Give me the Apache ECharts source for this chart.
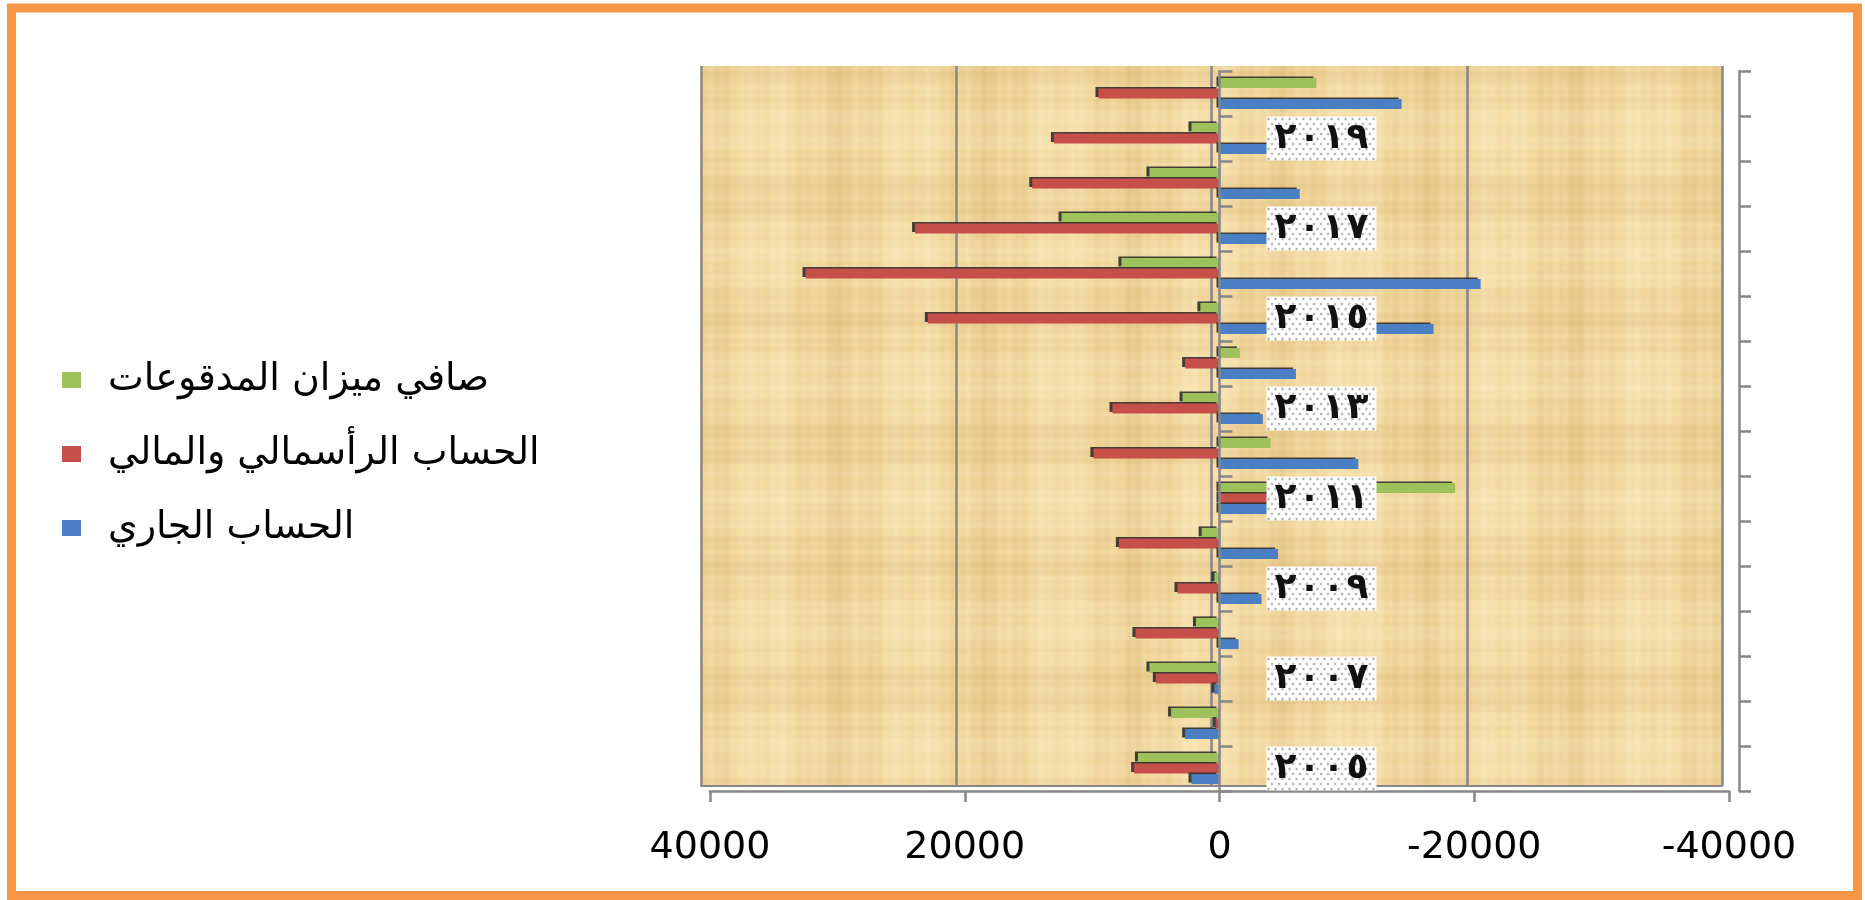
<!DOCTYPE html>
<html>
<head>
<meta charset="utf-8">
<script src="https://cdn.jsdelivr.net/npm/echarts@6.0.0/dist/echarts.min.js"></script>
<style>
  html, body { margin: 0; padding: 0; background: #ffffff; }
  #chart { width: 1865px; height: 900px; }
</style>
</head>
<body>
<div id="chart"></div>
<script>
// Balance of payments by year (millions)
const years = ['2005', '2006', '2007', '2008', '2009', '2010', '2011', '2012',
               '2013', '2014', '2015', '2016', '2017', '2018', '2019', '2020'];

const nameNet = 'صافي ميزان المدقوعات';
const nameCapital = 'الحساب الرأسمالي والمالي';
const nameCurrent = 'الحساب الجاري';

const netBalance = [6400, 3800, 5500, 1850, 400, 1400, -18500, -4000,
                    2900, -1600, 1500, 7700, 12400, 5500, 2200, -7600];
const capitalFinancial = [6700, 300, 5000, 6600, 3300, 7900, -6000, 9900,
                          8400, 2700, 22900, 32500, 23900, 14700, 13000, 9500];
const currentAccount = [2200, 2700, 400, -1500, -3300, -4600, -5900, -10900,
                        -3400, -6000, -16800, -20500, -7900, -6300, -10200, -14300];

// value axis ticks (axis is reversed: positive values to the left)
const valueTicks = [-40000, -20000, 0, 20000, 40000];

const colorNet = '#9DC15B';
const colorCapital = '#C64F4A';
const colorCurrent = '#4A7FC3';
const axisGray = '#878787';

// plot rectangle of the front (data) grid
const plotLeft = 710, plotRight = 136, plotTop = 71, plotBottom = 109;
const plotWidth = 1865 - plotLeft - plotRight;

// papyrus-like wall fill, built from smooth stripes
function papyrusTexture(w, h) {
  const c = document.createElement('canvas');
  c.width = w; c.height = h;
  const g = c.getContext('2d');
  g.fillStyle = '#F3D9A0';
  g.fillRect(0, 0, w, h);
  for (let x = 0; x < w; x += 2) {
    const v = 0.5 * Math.sin(x * 0.043) + 0.3 * Math.sin(x * 0.17 + 0.7) + 0.2 * Math.sin(x * 0.61 + 2.1);
    g.fillStyle = v > 0 ? 'rgba(255,244,210,' + (0.36 * v).toFixed(3) + ')'
                        : 'rgba(200,158,85,' + (-0.26 * v).toFixed(3) + ')';
    g.fillRect(x, 0, 2, h);
  }
  for (let y = 0; y < h; y += 2) {
    const v = 0.5 * Math.sin(y * 0.051 + 1.1) + 0.3 * Math.sin(y * 0.23 + 0.3) + 0.2 * Math.sin(y * 0.73 + 1.7);
    g.fillStyle = v > 0 ? 'rgba(255,244,210,' + (0.28 * v).toFixed(3) + ')'
                        : 'rgba(200,158,85,' + (-0.22 * v).toFixed(3) + ')';
    g.fillRect(0, y, w, 2);
  }
  return c;
}

// white box with a staggered dot pattern behind the year labels
function dottedBox(w, h) {
  const c = document.createElement('canvas');
  c.width = w; c.height = h;
  const g = c.getContext('2d');
  g.fillStyle = '#ffffff';
  g.fillRect(0, 0, w, h);
  g.fillStyle = '#707070';
  let row = 0;
  for (let y = 2.5; y < h; y += 5, row++) {
    for (let x = 2 + (row % 2) * 3.5; x < w; x += 7) {
      g.beginPath();
      g.arc(x, y, 0.95, 0, Math.PI * 2);
      g.fill();
    }
  }
  return c;
}

const ARABIC_DIGITS = '٠١٢٣٤٥٦٧٨٩';
function yearLabel(y) {
  return String(y).split('').map(function (ch) {
    return '{d|' + ARABIC_DIGITS[+ch] + '}';
  }).join('');
}

const wallFill = papyrusTexture(1865, 900);
const labelBox = dottedBox(110, 44);

const barShadow = {
  shadowColor: 'rgba(35,35,35,0.85)',
  shadowOffsetX: -3,
  shadowOffsetY: -1.5,
  shadowBlur: 0
};

function barSeries(name, data, color) {
  return {
    name: name,
    type: 'bar',
    xAxisIndex: 0,
    yAxisIndex: 0,
    data: data,
    barWidth: 10,
    barGap: '6%',
    itemStyle: Object.assign({ color: color }, barShadow)
  };
}

const chart = echarts.init(document.getElementById('chart'), null, { renderer: 'canvas' });

// pixel distance from the plot's left edge to the value 0 (reversed axis)
const zeroFromLeft = plotWidth * (valueTicks[valueTicks.length - 1] - 0) /
                     (valueTicks[valueTicks.length - 1] - valueTicks[0]);

chart.setOption({
  animation: false,
  backgroundColor: '#ffffff',
  graphic: [{
    type: 'rect',
    silent: true,
    z: 100,
    shape: { x: 11.5, y: 8, width: 1846, height: 887.5 },
    style: { fill: 'none', stroke: '#F79646', lineWidth: 9 }
  }],
  legend: {
    orient: 'vertical',
    left: 62,
    top: 361,
    padding: 0,
    itemWidth: 19,
    itemHeight: 16,
    itemGap: 36,
    icon: 'rect',
    data: [nameNet, nameCapital, nameCurrent],
    formatter: function (n) { return '{gap| }{t|' + n + '}'; },
    textStyle: {
      fontSize: 38,
      lineHeight: 38,
      rich: {
        gap: { width: 22 },
        t: { fontFamily: 'DejaVu Sans', fontSize: 38, color: '#000000', lineHeight: 38 }
      }
    }
  },
  grid: [
    { left: plotLeft, right: plotRight, top: plotTop, bottom: plotBottom, show: false },
    {
      left: 701, right: 143, top: 66, bottom: 114, show: true,
      backgroundColor: { image: wallFill, repeat: 'repeat' },
      borderWidth: 0
    }
  ],
  xAxis: [
    {
      gridIndex: 0,
      type: 'value',
      inverse: true,
      min: valueTicks[0],
      max: valueTicks[valueTicks.length - 1],
      interval: valueTicks[1] - valueTicks[0],
      axisLine: { show: true, onZero: false, lineStyle: { color: axisGray, width: 2.5 } },
      axisTick: { show: true, length: 11, lineStyle: { color: axisGray, width: 2.5 } },
      splitLine: { show: false },
      axisLabel: {
        formatter: function (v) { return String(v); },
        margin: 38,
        fontFamily: 'DejaVu Sans',
        fontSize: 38,
        color: '#000000'
      }
    },
    {
      gridIndex: 1,
      type: 'value',
      inverse: true,
      min: valueTicks[0],
      max: valueTicks[valueTicks.length - 1],
      interval: valueTicks[1] - valueTicks[0],
      axisLine: { show: true, onZero: false, lineStyle: { color: axisGray, width: 2 } },
      axisTick: { show: false },
      axisLabel: { show: false },
      splitLine: { show: true, lineStyle: { color: axisGray, width: 2.5 } }
    }
  ],
  yAxis: [
    {
      // category axis drawn on the zero line
      gridIndex: 0,
      type: 'category',
      data: years,
      z: 10,
      axisLine: { show: true, onZero: true, lineStyle: { color: axisGray, width: 2.5 } },
      axisTick: { show: true, inside: true, interval: 0, length: 13, lineStyle: { color: axisGray, width: 2.5 } },
      axisLabel: { show: false }
    },
    {
      // outer category axis on the right
      gridIndex: 0,
      type: 'category',
      data: years,
      position: 'right',
      offset: 10,
      axisLine: { show: true, onZero: false, lineStyle: { color: axisGray, width: 2.5 } },
      axisTick: { show: true, interval: 0, length: 12, lineStyle: { color: axisGray, width: 2.5 } },
      axisLabel: { show: false }
    },
    {
      // year labels, set beside the zero line
      gridIndex: 0,
      type: 'category',
      data: years,
      position: 'left',
      offset: -zeroFromLeft,
      z: 12,
      axisLine: { show: false, onZero: false },
      axisTick: { show: false },
      axisLabel: {
        inside: true,
        interval: 1,
        margin: 47,
        formatter: yearLabel,
        backgroundColor: { image: labelBox },
        padding: [0, 7],
        rich: {
          d: {
            width: 24,
            align: 'center',
            fontFamily: 'DejaVu Sans',
            fontWeight: 'bold',
            fontSize: 36,
            lineHeight: 44,
            color: '#111111'
          }
        }
      }
    },
    { gridIndex: 1, type: 'category', data: years, show: false }
  ],
  series: [
    barSeries(nameNet, netBalance, colorNet),
    barSeries(nameCapital, capitalFinancial, colorCapital),
    barSeries(nameCurrent, currentAccount, colorCurrent)
  ]
});
</script>
</body>
</html>
